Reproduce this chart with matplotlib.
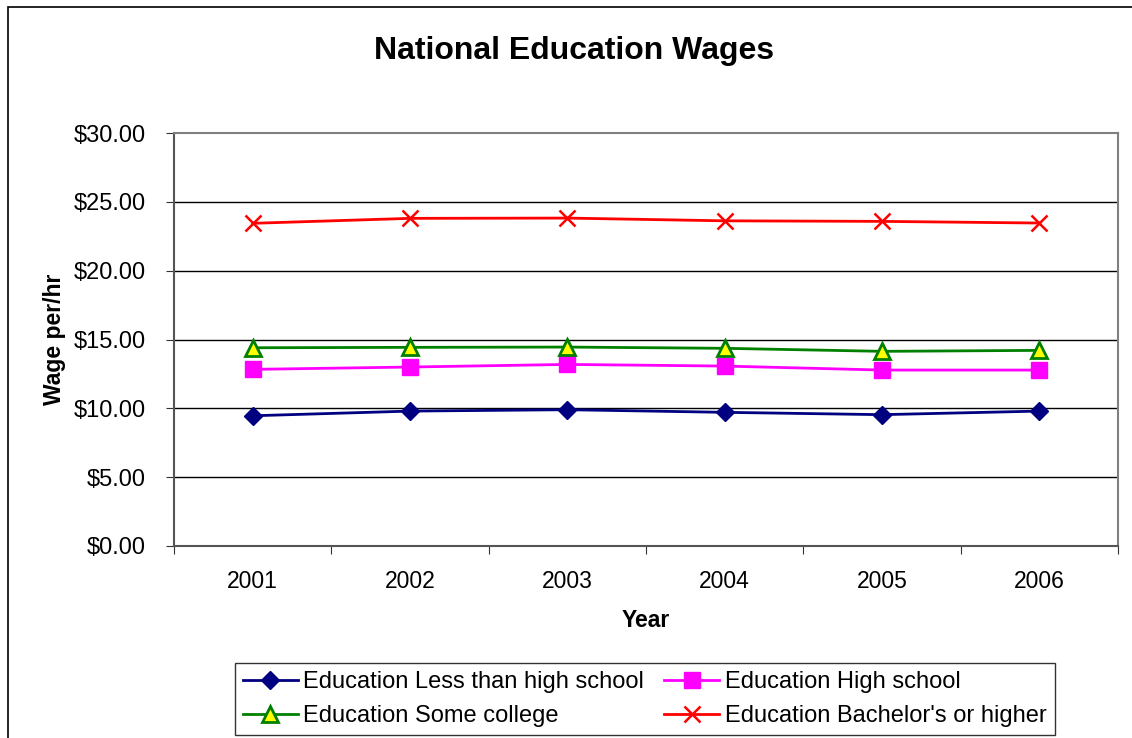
import matplotlib.pyplot as plt
from matplotlib.patches import Rectangle
from matplotlib.ticker import FuncFormatter, MultipleLocator

plt.rcParams['font.family'] = ['Liberation Sans', 'DejaVu Sans']

years = ['2001', '2002', '2003', '2004', '2005', '2006']
less_than_hs = [9.46, 9.80, 9.90, 9.71, 9.54, 9.80]
high_school = [12.83, 13.00, 13.19, 13.07, 12.78, 12.78]
some_college = [14.40, 14.43, 14.45, 14.36, 14.14, 14.21]
bachelors = [23.44, 23.80, 23.82, 23.62, 23.58, 23.46]

W, H = 1132, 738
fig = plt.figure(figsize=(W / 100, H / 100), dpi=100)

# outer chart-area frame
fig.patches.append(Rectangle((8 / W, -0.01), 2, 1 - 7 / H + 0.01,
                             transform=fig.transFigure, fill=False,
                             edgecolor='black', linewidth=1.2))

ax = fig.add_axes([174 / W, 1 - 546 / H, (1118 - 174) / W, (546 - 133) / H])
x = range(len(years))

l1, = ax.plot(x, less_than_hs, color='#000080', lw=2, marker='D', ms=9,
              mfc='#000080', mec='#000080', label='Education Less than high school')
l2, = ax.plot(x, high_school, color='#FF00FF', lw=2, marker='s', ms=11,
              mfc='#FF00FF', mec='#FF00FF', label='Education High school')
l3, = ax.plot(x, some_college, color='#008000', lw=2, marker='^', ms=11,
              mfc='#FFFF00', mec='#008000', mew=2, label='Education Some college')
l4, = ax.plot(x, bachelors, color='#FF0000', lw=2, marker='x', ms=12, mew=1.8,
              label="Education Bachelor's or higher")

ax.set_xlim(-0.5, 5.5)
ax.set_ylim(0, 30)
ax.yaxis.set_major_locator(MultipleLocator(5))
ax.yaxis.set_major_formatter(FuncFormatter(lambda v, p: f'${v:.2f}'))
ax.set_xticks([i - 0.5 for i in range(7)])
ax.set_xticklabels([])
ax.set_xticks(list(x), minor=True)
ax.set_xticklabels(years, minor=True)
ax.tick_params(axis='x', which='minor', length=0, pad=17, labelsize=16.5)
ax.tick_params(axis='x', which='major', length=6, direction='out', color='#333333')
ax.tick_params(axis='y', length=6, direction='out', labelsize=17, pad=14, color='#333333')
for yv in range(5, 30, 5):
    ax.axhline(yv, color='black', lw=1, zorder=0)
for s in ax.spines.values():
    s.set_color('#808080')
    s.set_linewidth(1.5)
ax.spines['left'].set_color('#555555')
ax.spines['bottom'].set_color('#555555')

ax.set_xlabel('Year', fontsize=16.5, fontweight='bold', labelpad=12)
ax.set_ylabel('Wage per/hr', fontsize=16.5, fontweight='bold', labelpad=6)
fig.text(574 / W, 1 - 51 / H, 'National Education Wages', ha='center',
         va='center', fontsize=23, fontweight='bold')

leg = fig.legend([l1, l3, l2, l4], [l.get_label() for l in (l1, l3, l2, l4)],
                 loc='upper left', bbox_to_anchor=(235 / W, 1 - 663 / H),
                 ncol=2, fontsize=17, frameon=True, fancybox=False,
                 edgecolor='black', handlelength=2.3, handletextpad=0.25,
                 columnspacing=0.85, borderpad=0.35, labelspacing=0.5,
                 borderaxespad=0)
leg.get_frame().set_linewidth(1)

fig.savefig('out.png', dpi=100)
